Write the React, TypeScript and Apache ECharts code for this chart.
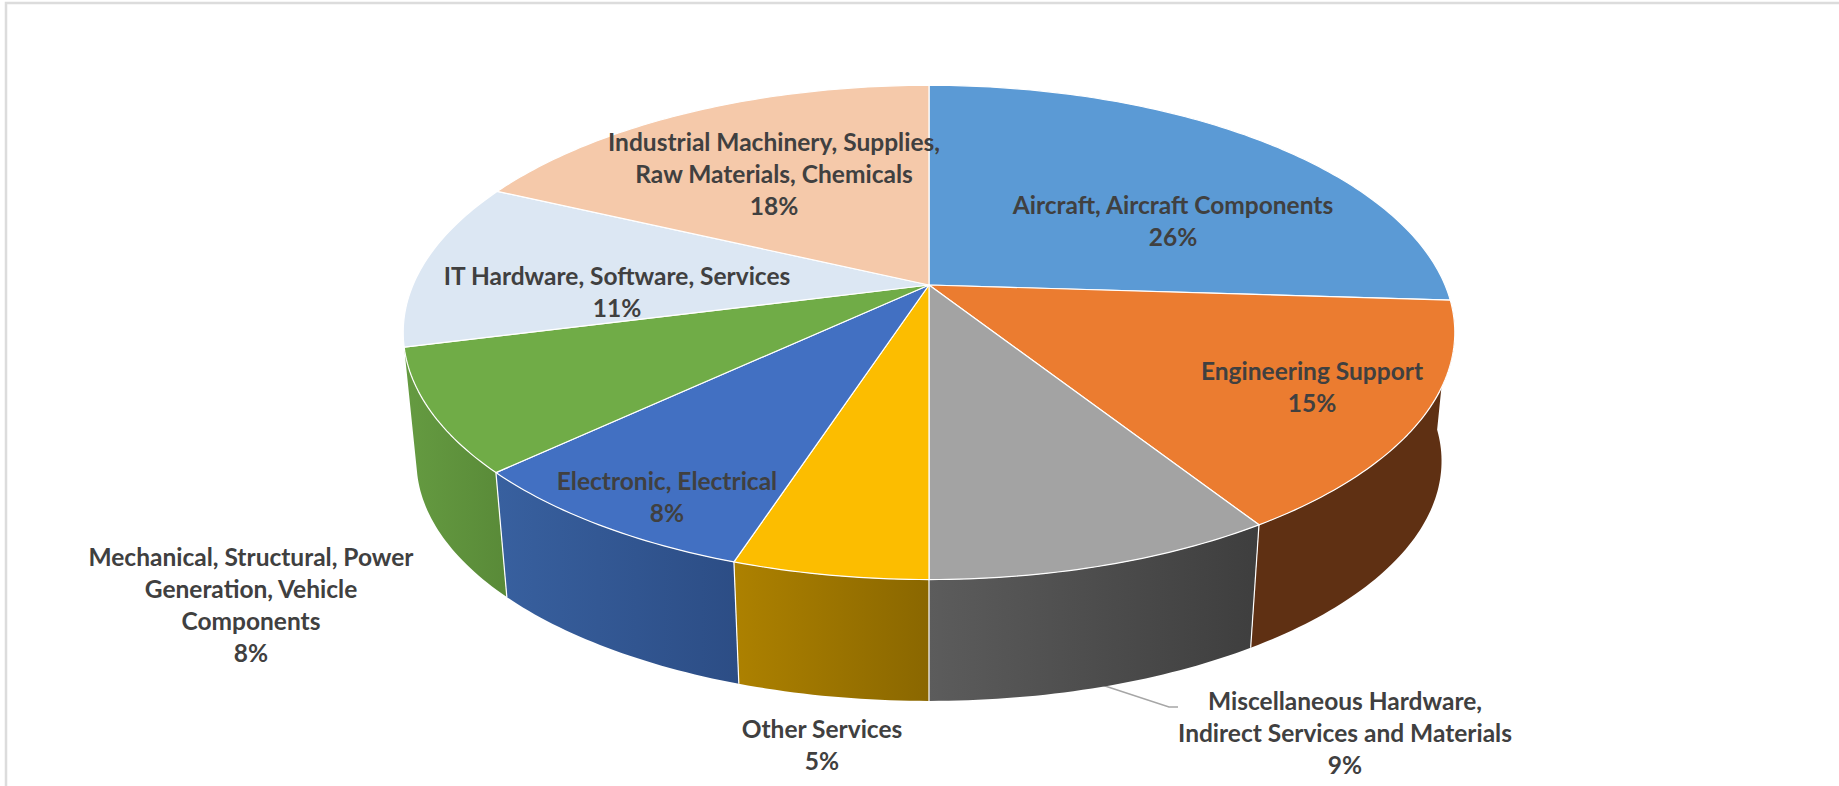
import React, { useEffect, useRef } from "react";
import * as echarts from "echarts";

// Spend by category, in percent, clockwise from twelve o'clock.
const categories = [
  "Aircraft, Aircraft Components",
  "Engineering Support",
  "Miscellaneous Hardware,\nIndirect Services and Materials",
  "Other Services",
  "Electronic, Electrical",
  "Mechanical, Structural, Power\nGeneration, Vehicle\nComponents",
  "IT Hardware, Software, Services",
  "Industrial Machinery, Supplies,\nRaw Materials, Chemicals",
];
const values = [26, 15, 9, 5, 8, 8, 11, 18];

const topColors = ["#5b9ad5", "#eb7c30", "#a3a3a3", "#fcbd00", "#4270c2", "#70ac47", "#dce7f3", "#f5c9aa"];
const wallLeftColors = ["#3f6f9c", "#5f3013", "#5c5c5c", "#ad8100", "#38609f", "#659b41", "#8fa3b5", "#b08a6e"];
const wallRightColors = ["#3f6f9c", "#5f3013", "#3e3e3e", "#8a6700", "#2c4d85", "#598a38", "#8fa3b5", "#b08a6e"];

// Label centres in page pixels.
const labelCentres = [
  [1173, 220],
  [1312, 386],
  [1345, 732],
  [822, 744],
  [667, 496],
  [251, 604],
  [617, 291],
  [774, 173],
];

// Perspective disc: the top face and the smaller, lower base face.
const CX = 929;
const PERSPECTIVE = 0.192;
const topFace = { cy: 285, a: 516, b: 238 };
const baseFace = { cy: 415, a: 503, b: 231 };

const project = (face: { cy: number; a: number; b: number }, pct: number) => {
  const t = (pct / 100) * Math.PI * 2;
  const x = Math.sin(t);
  const y = -Math.cos(t);
  const w = 1 - PERSPECTIVE * y;
  return [CX + (face.a * x) / w, face.cy + (face.b * y) / w];
};

const arc = (face: { cy: number; a: number; b: number }, from: number, to: number) => {
  const pts: number[][] = [];
  const n = Math.max(2, Math.ceil((to - from) * 4));
  for (let i = 0; i <= n; i++) pts.push(project(face, from + ((to - from) * i) / n));
  return pts;
};

const totals = values.reduce((acc: number[], v) => {
  acc.push((acc.length ? acc[acc.length - 1] : 0) + v);
  return acc;
}, []);
const sliceRows = values.map((v, i) => [totals[i] - v, totals[i], v]);

// Only the front of the rim is ever visible.
const RIM_FROM = 26;
const RIM_TO = 71;

const renderWall = (params: any, api: any) => {
  const i = params.dataIndex;
  const from = api.value(0);
  const to = api.value(1);
  if (to <= RIM_FROM || from >= RIM_TO) return { type: "group", children: [] };
  const upper = arc(topFace, from, to);
  const lower = arc(baseFace, from, to);
  const children: any[] = [
    {
      type: "polygon",
      shape: { points: [...upper, ...lower.slice().reverse()] },
      style: {
        fill: new echarts.graphic.LinearGradient(0, 0, 1, 0, [
          { offset: 0, color: wallLeftColors[i] },
          { offset: 1, color: wallRightColors[i] },
        ]),
      },
    },
  ];
  if (from > RIM_FROM) {
    children.push({
      type: "polyline",
      shape: { points: [project(topFace, from), project(baseFace, from)] },
      style: { stroke: "#ffffff", lineWidth: 1.2, fill: "none" },
    });
  }
  return { type: "group", children };
};

const renderTop = (params: any, api: any) => {
  const i = params.dataIndex;
  const apex = [CX, topFace.cy];
  return {
    type: "polygon",
    shape: { points: [apex, ...arc(topFace, api.value(0), api.value(1))] },
    style: { fill: topColors[i], stroke: "#ffffff", lineWidth: 1.2, lineJoin: "round" },
  };
};

const renderLabel = (params: any, api: any) => {
  const i = params.dataIndex;
  return {
    type: "text",
    x: labelCentres[i][0],
    y: labelCentres[i][1],
    style: {
      text: `${categories[i]}\n${api.value(2)}%`,
      textAlign: "center",
      textVerticalAlign: "middle",
      fontFamily: "Lato",
      fontWeight: "bold",
      fontSize: 24.5,
      lineHeight: 32,
      fill: "#404040",
    },
  };
};

export default function App() {
  const ref = useRef<HTMLDivElement>(null);
  useEffect(() => {
    document.body.style.margin = "0";
    const chart = echarts.init(ref.current!, undefined, { renderer: "svg" });
    const common = { type: "custom", coordinateSystem: "none", data: sliceRows, silent: true };
    chart.setOption({
      animation: false,
      backgroundColor: "#ffffff",
      series: [
        { ...common, z: 2, renderItem: renderWall },
        { ...common, z: 3, renderItem: renderTop },
        { ...common, z: 5, renderItem: renderLabel },
      ],
      graphic: [
        {
          type: "polyline",
          z: 1,
          shape: { points: [[6, 786], [6, 3], [1839, 3]] },
          style: { stroke: "#dcdcdc", lineWidth: 2.5, fill: "none" },
        },
        {
          type: "polyline",
          z: 1,
          shape: { points: [[1102, 685], [1169, 707], [1178, 707]] },
          style: { stroke: "#a6a6a6", lineWidth: 1.5, fill: "none" },
        },
      ],
    });
    return () => chart.dispose();
  }, []);
  return <div ref={ref} style={{ width: 1839, height: 786, overflow: "hidden" }} />;
}
